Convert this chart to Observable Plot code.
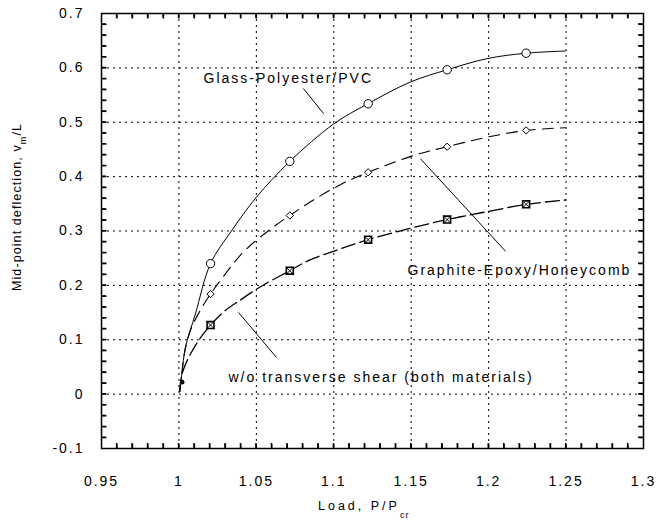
<!DOCTYPE html>
<html>
<head>
<meta charset="utf-8">
<script src="https://cdn.jsdelivr.net/npm/d3@7"></script>
<script src="https://cdn.jsdelivr.net/npm/@observablehq/plot@0.6"></script>
<style>
  html, body { margin: 0; padding: 0; background: white; }
  #chart { width: 671px; height: 525px; }
</style>
</head>
<body>
<div id="chart"></div>
<script>
// ---- axes ----
const xDomain = [0.95, 1.3];
const yDomain = [-0.1, 0.7];
const xMajor = [0.95, 1.0, 1.05, 1.1, 1.15, 1.2, 1.25, 1.3];
const xTickLabels = ["0.95", "1", "1.05", "1.1", "1.15", "1.2", "1.25", "1.3"];
const yMajor = [-0.1, 0, 0.1, 0.2, 0.3, 0.4, 0.5, 0.6, 0.7];
const yTickLabels = ["-0.1", "0", "0.1", "0.2", "0.3", "0.4", "0.5", "0.6", "0.7"];
const xMinor = [0.96, 0.97, 0.98, 0.99, 1.00, 1.01, 1.02, 1.03, 1.04, 1.05, 1.06, 1.07, 1.08, 1.09,
  1.10, 1.11, 1.12, 1.13, 1.14, 1.15, 1.16, 1.17, 1.18, 1.19, 1.20, 1.21, 1.22, 1.23, 1.24, 1.25,
  1.26, 1.27, 1.28, 1.29];
const yMinor = [-0.08, -0.06, -0.04, -0.02, 0, 0.02, 0.04, 0.06, 0.08, 0.1, 0.12, 0.14, 0.16, 0.18,
  0.2, 0.22, 0.24, 0.26, 0.28, 0.3, 0.32, 0.34, 0.36, 0.38, 0.4, 0.42, 0.44, 0.46, 0.48, 0.5,
  0.52, 0.54, 0.56, 0.58, 0.6, 0.62, 0.64, 0.66, 0.68];

// ---- curves ----
const glassX = [1.0005, 1.002, 1.0042, 1.0107, 1.0204, 1.0344, 1.05, 1.0716, 1.1, 1.122, 1.1495, 1.1732, 1.199, 1.2242, 1.2496];
const glassY = [0.005, 0.04, 0.086, 0.148, 0.24, 0.302, 0.362, 0.428, 0.497, 0.534, 0.574, 0.5965, 0.617, 0.627, 0.631];

const graphX = [1.0005, 1.002, 1.0031, 1.0074, 1.015, 1.0204, 1.0257, 1.0415, 1.058, 1.0716, 1.088, 1.1054, 1.1222, 1.1517, 1.1732, 1.199, 1.2242, 1.2496];
const graphY = [0.005, 0.04, 0.068, 0.117, 0.16, 0.184, 0.205, 0.261, 0.301, 0.3285, 0.359, 0.387, 0.408, 0.439, 0.455, 0.4725, 0.485, 0.49];

const noShearX = [1.0005, 1.002, 1.0064, 1.0128, 1.0204, 1.030, 1.0397, 1.0484, 1.056, 1.0716, 1.0839, 1.1011, 1.1222, 1.1495, 1.1732, 1.197, 1.2242, 1.2496];
const noShearY = [0.005, 0.037, 0.068, 0.099, 0.127, 0.154, 0.173, 0.19, 0.203, 0.227, 0.246, 0.264, 0.284, 0.305, 0.321, 0.3345, 0.349, 0.357];

// common starting point where the three curves meet
const startX = [1.0021];
const startY = [0.022];

// ---- markers ----
const markX = [1.0204, 1.0716, 1.1222, 1.1732, 1.2242];
const glassMarkY = [0.24, 0.428, 0.534, 0.5965, 0.627];
const graphMarkY = [0.184, 0.3285, 0.408, 0.455, 0.485];
const noShearMarkY = [0.127, 0.227, 0.284, 0.321, 0.349];

// ---- annotations ----
const labelText = ["Glass-Polyester/PVC", "Graphite-Epoxy/Honeycomb", "w/o transverse shear (both materials)"];
const labelX = [1.0159, 1.1476, 1.032];
const labelY = [0.580, 0.2265, 0.0306];
const leaderX1 = [1.0804, 1.156, 1.0385];
const leaderY1 = [0.562, 0.4328, 0.1501];
const leaderX2 = [1.0934, 1.2109, 1.063];
const leaderY2 = [0.516, 0.2628, 0.0674];

const zip = (xs, ys) => xs.map((x, i) => ({x, y: ys[i]}));
const glass = zip(glassX, glassY);
const graph = zip(graphX, graphY);
const noShear = zip(noShearX, noShearY);
const start = zip(startX, startY);
const glassM = zip(markX, glassMarkY);
const graphM = zip(markX, graphMarkY);
const noShearM = zip(markX, noShearMarkY);
const labels = labelText.map((t, i) => ({t, x: labelX[i], y: labelY[i]}));
const leaders = labelText.map((t, i) => ({x1: leaderX1[i], y1: leaderY1[i], x2: leaderX2[i], y2: leaderY2[i]}));

// tick segments along the frame edges
const tickLen = 5; // px
const W = 671, H = 525, mL = 101, mR = 28, mT = 13, mB = 77;
const frameW = W - mL - mR, frameH = H - mT - mB;
const tdy = tickLen * (yDomain[1] - yDomain[0]) / frameH;
const tdx = tickLen * (xDomain[1] - xDomain[0]) / frameW;
const xTickSegs = [];
xMinor.forEach(v => {
  xTickSegs.push({x1: v, x2: v, y1: yDomain[0], y2: yDomain[0] + tdy});
  xTickSegs.push({x1: v, x2: v, y1: yDomain[1], y2: yDomain[1] - tdy});
});
const yTickSegs = [];
yMinor.forEach(v => {
  yTickSegs.push({y1: v, y2: v, x1: xDomain[0], x2: xDomain[0] + tdx});
  yTickSegs.push({y1: v, y2: v, x1: xDomain[1], x2: xDomain[1] - tdx});
});

const gridStyle = {stroke: "black", strokeOpacity: 1, strokeWidth: 1, strokeDasharray: "2,4"};

const plot = Plot.plot({
  width: W,
  height: H,
  marginLeft: mL,
  marginRight: mR,
  marginTop: mT,
  marginBottom: mB,
  x: {domain: xDomain, label: null},
  y: {domain: yDomain, label: null},
  style: {
    fontFamily: "'Liberation Sans', Arial, sans-serif",
    fontSize: "14px",
    letterSpacing: "2px",
    color: "black",
    background: "white"
  },
  marks: [
    Plot.gridX(xMajor, gridStyle),
    Plot.gridY(yMajor, gridStyle),
    Plot.link(xTickSegs, {x1: "x1", y1: "y1", x2: "x2", y2: "y2", stroke: "black", strokeWidth: 1.4}),
    Plot.link(yTickSegs, {x1: "x1", y1: "y1", x2: "x2", y2: "y2", stroke: "black", strokeWidth: 1.4}),
    Plot.axisX(xMajor, {anchor: "bottom", tickSize: 0, tickPadding: 28, fontSize: 14,
      tickFormat: d => xTickLabels[xMajor.indexOf(d)]}),
    Plot.axisY(yMajor, {anchor: "left", tickSize: 0, tickPadding: 17, fontSize: 14,
      tickFormat: d => yTickLabels[yMajor.indexOf(d)]}),
    Plot.frame({stroke: "black", strokeWidth: 1.5}),
    Plot.line(glass, {x: "x", y: "y", curve: "catmull-rom", stroke: "black", strokeWidth: 1}),
    Plot.line(graph, {x: "x", y: "y", curve: "catmull-rom", stroke: "black", strokeWidth: 1.1, strokeDasharray: "11,7"}),
    Plot.line(noShear, {x: "x", y: "y", curve: "catmull-rom", stroke: "black", strokeWidth: 1.3, strokeDasharray: "14,5"}),
    Plot.dot(start, {x: "x", y: "y", r: 2.3, fill: "black"}),
    Plot.dot(glassM, {x: "x", y: "y", r: 4.2, symbol: "circle", fill: "white", stroke: "black", strokeWidth: 1}),
    Plot.dot(graphM, {x: "x", y: "y", r: 3.3, symbol: "diamond2", fill: "white", stroke: "black", strokeWidth: 1}),
    Plot.dot(noShearM, {x: "x", y: "y", r: 4.4, symbol: "square2", fill: "white", stroke: "black", strokeWidth: 1.6}),
    Plot.dot(noShearM, {x: "x", y: "y", r: 3.6, symbol: "times", stroke: "black", strokeWidth: 1}),
    Plot.link(leaders, {x1: "x1", y1: "y1", x2: "x2", y2: "y2", stroke: "black", strokeWidth: 1}),
    Plot.text(labels, {x: "x", y: "y", text: "t", textAnchor: "start", lineAnchor: "middle", fontSize: 14, fill: "black"})
  ]
});

const svg = d3.select(plot);

// backup: inward minor ticks as one path, positioned through Plot's own scales
try {
  const sxo = plot.scale("x"), syo = plot.scale("y");
  const sx = d3.scaleLinear(sxo.domain, sxo.range);
  const sy = d3.scaleLinear(syo.domain, syo.range);
  const yb = sy(yDomain[0]), yt0 = sy(yDomain[1]);
  const xl = sx(xDomain[0]), xr = sx(xDomain[1]);
  const p = d3.path();
  xMinor.forEach(v => {
    const px = sx(v);
    p.moveTo(px, yb); p.lineTo(px, yb - tickLen);
    p.moveTo(px, yt0); p.lineTo(px, yt0 + tickLen);
  });
  yMinor.forEach(v => {
    const py = sy(v);
    p.moveTo(xl, py); p.lineTo(xl + tickLen, py);
    p.moveTo(xr, py); p.lineTo(xr - tickLen, py);
  });
  svg.append("path")
    .attr("d", p.toString())
    .attr("fill", "none")
    .attr("stroke", "#000")
    .attr("stroke-width", 1.2);
} catch (e) { /* ignore */ }

// x-axis title with subscript
const xt = svg.append("text")
  .attr("x", 318).attr("y", 510)
  .attr("text-anchor", "start")
  .attr("font-size", 12.5)
  .style("letter-spacing", "3px")
  .attr("fill", "black");
xt.append("tspan").text("Load, P/P");
xt.append("tspan").attr("dy", 8).attr("font-size", 9).style("letter-spacing", "1px").text("cr");

// y-axis title with subscript
const yt = svg.append("text")
  .attr("transform", "translate(17,207) rotate(-90)")
  .attr("text-anchor", "middle")
  .attr("dominant-baseline", "central")
  .attr("font-size", 12.5)
  .style("letter-spacing", "1.1px")
  .attr("fill", "black");
yt.append("tspan").text("Mid-point deflection, v");
yt.append("tspan").attr("dy", 6).attr("font-size", 9).text("m");
yt.append("tspan").attr("dy", -6).text("/L");

document.getElementById("chart").appendChild(plot);
</script>
</body>
</html>
